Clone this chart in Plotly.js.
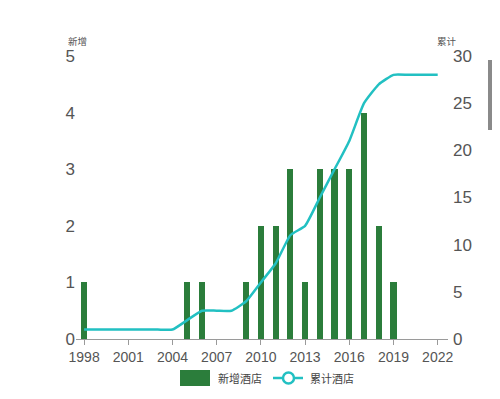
<!DOCTYPE html>
<html><head><meta charset="utf-8">
<script src="https://cdn.plot.ly/plotly-3.0.1.min.js"></script>
<style>html,body{margin:0;padding:0;background:#fff;}#chart{width:500px;height:399px;}</style>
</head><body><div id="chart"></div>
<script>
const years = [1998,1999,2000,2001,2002,2003,2004,2005,2006,2007,2008,2009,2010,2011,2012,2013,2014,2015,2016,2017,2018,2019,2020,2021,2022];
const newHotels = [1,0,0,0,0,0,0,1,1,0,0,1,2,2,3,1,3,3,3,4,2,1,0,0,0];
const cumHotels = [1,1,1,1,1,1,1,2,3,3,3,4,6,8,11,12,15,18,21,25,27,28,28,28,28];
const xTicks = [1998,2001,2004,2007,2010,2013,2016,2019,2022];
const seriesNames = ['新增酒店','累计酒店'];
const axisTitles = ['新增','累计'];

const barColor = '#2b7d3b';
const lineColor = '#22c0c2';
const font = 'Liberation Sans, Arial, sans-serif';
const cjk = 'Noto Sans CJK SC, sans-serif';

const traces = [
  {type:'bar', x:years, y:newHotels, name:seriesNames[0], marker:{color:barColor}, width:0.42, yaxis:'y', showlegend:false, hoverinfo:'x+y'},
  {type:'scatter', mode:'lines', x:years, y:cumHotels, name:seriesNames[1], yaxis:'y2', line:{color:lineColor, width:2.5, shape:'spline', smoothing:0.45}, showlegend:false}
];

const px = v => (v-76)/372, py = v => (339-v)/283;
const layout = {
  width:500, height:399,
  margin:{l:76, r:52, t:56, b:60},
  paper_bgcolor:'#fff', plot_bgcolor:'#fff',
  showlegend:false,
  bargap:0,
  xaxis:{range:[1997.45,2022.7], tickvals:xTicks, ticktext:xTicks.map(String), showgrid:false, zeroline:false,
    showline:true, linecolor:'#9a9a9a', linewidth:1, ticks:'outside', ticklen:5, tickcolor:'#9a9a9a',
    tickfont:{family:font, size:14, color:'#555'}},
  yaxis:{range:[0,5], dtick:1, showgrid:false, zeroline:false, showline:false, ticks:'',
    tickfont:{family:font, size:17, color:'#555'}},
  yaxis2:{range:[0,30], dtick:5, overlaying:'y', side:'right', showgrid:false, zeroline:false, showline:false, ticks:'',
    ticklabelstandoff:4, tickfont:{family:font, size:17, color:'#555'}},
  annotations:[
    {text:axisTitles[0], xref:'paper', yref:'paper', x:px(77), y:py(41), xanchor:'center', yanchor:'middle', showarrow:false, font:{family:cjk, size:9.5, color:'#555'}},
    {text:axisTitles[1], xref:'paper', yref:'paper', x:px(447), y:py(41), xanchor:'center', yanchor:'middle', showarrow:false, font:{family:cjk, size:9.5, color:'#555'}},
    {text:seriesNames[0], xref:'paper', yref:'paper', x:px(216), y:py(378), xanchor:'left', yanchor:'middle', showarrow:false, font:{family:cjk, size:11, color:'#444'}},
    {text:seriesNames[1], xref:'paper', yref:'paper', x:px(308), y:py(378), xanchor:'left', yanchor:'middle', showarrow:false, font:{family:cjk, size:11, color:'#444'}}
  ],
  shapes:[
    {type:'rect', xref:'paper', yref:'paper', x0:px(180), x1:px(210), y0:py(370), y1:py(386), fillcolor:barColor, line:{width:0}},
    {type:'line', xref:'paper', yref:'paper', x0:px(273), x1:px(303), y0:py(378), y1:py(378), line:{color:lineColor, width:2.5}},
    {type:'circle', xref:'paper', yref:'paper', x0:px(283), x1:px(294), y0:py(372.5), y1:py(383.5), fillcolor:'#fff', line:{color:lineColor, width:2.5}},
    {type:'rect', xref:'paper', yref:'paper', x0:px(488), x1:px(492), y0:py(60), y1:py(130), fillcolor:'#8a8a8a', line:{width:0}}
  ]
};
Plotly.newPlot('chart', traces, layout, {displayModeBar:false, staticPlot:true});
</script></body></html>
